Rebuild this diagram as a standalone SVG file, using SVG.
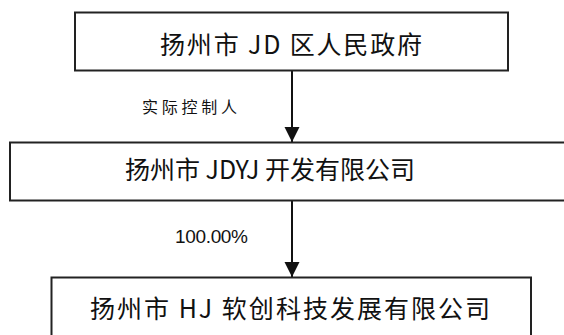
<svg xmlns="http://www.w3.org/2000/svg" width="564" height="335" viewBox="0 0 564 335">
<style>
.box{fill:#fff;stroke:#222;stroke-width:2}
.t{font-family:"Noto Sans CJK SC","Liberation Sans",sans-serif;fill:#111;text-anchor:middle}
.big{font-size:25px}
.lbl{font-size:16px}
.conn{stroke:#111;stroke-width:2;fill:none}
</style>
<defs>
<marker id="ah" markerUnits="userSpaceOnUse" markerWidth="16" markerHeight="16" refX="15" refY="8" orient="auto">
<path d="M0,0.5 L15,8 L0,15.5 Z" fill="#111"/>
</marker>
</defs>
<rect width="564" height="335" fill="#fff"/>
<g id="connectors">
<line class="conn" x1="292" y1="71" x2="292" y2="142" marker-end="url(#ah)"/>
<line class="conn" x1="292" y1="201" x2="292" y2="277" marker-end="url(#ah)"/>
</g>
<g id="node1">
<rect class="box" x="75" y="12.5" width="433" height="58"/>
<text class="t big" x="291" y="54" textLength="262" lengthAdjust="spacing">扬州市 JD 区人民政府</text>
</g>
<g id="node2">
<rect class="box" x="10" y="142.5" width="570" height="58"/>
<text class="t big" x="270" y="179" textLength="290" lengthAdjust="spacing">扬州市 JDYJ 开发有限公司</text>
</g>
<g id="node3">
<rect class="box" x="51.5" y="277.5" width="479.5" height="70"/>
<text class="t big" x="290" y="318" textLength="400" lengthAdjust="spacing">扬州市 HJ 软创科技发展有限公司</text>
</g>
<g id="labels">
<text class="t lbl" x="189.5" y="113" textLength="95" lengthAdjust="spacing">实际控制人</text>
<text class="t lbl" x="211.5" y="243" textLength="73" lengthAdjust="spacing" style="font-family:'Liberation Sans',sans-serif;font-size:19px">100.00%</text>
</g>
</svg>
